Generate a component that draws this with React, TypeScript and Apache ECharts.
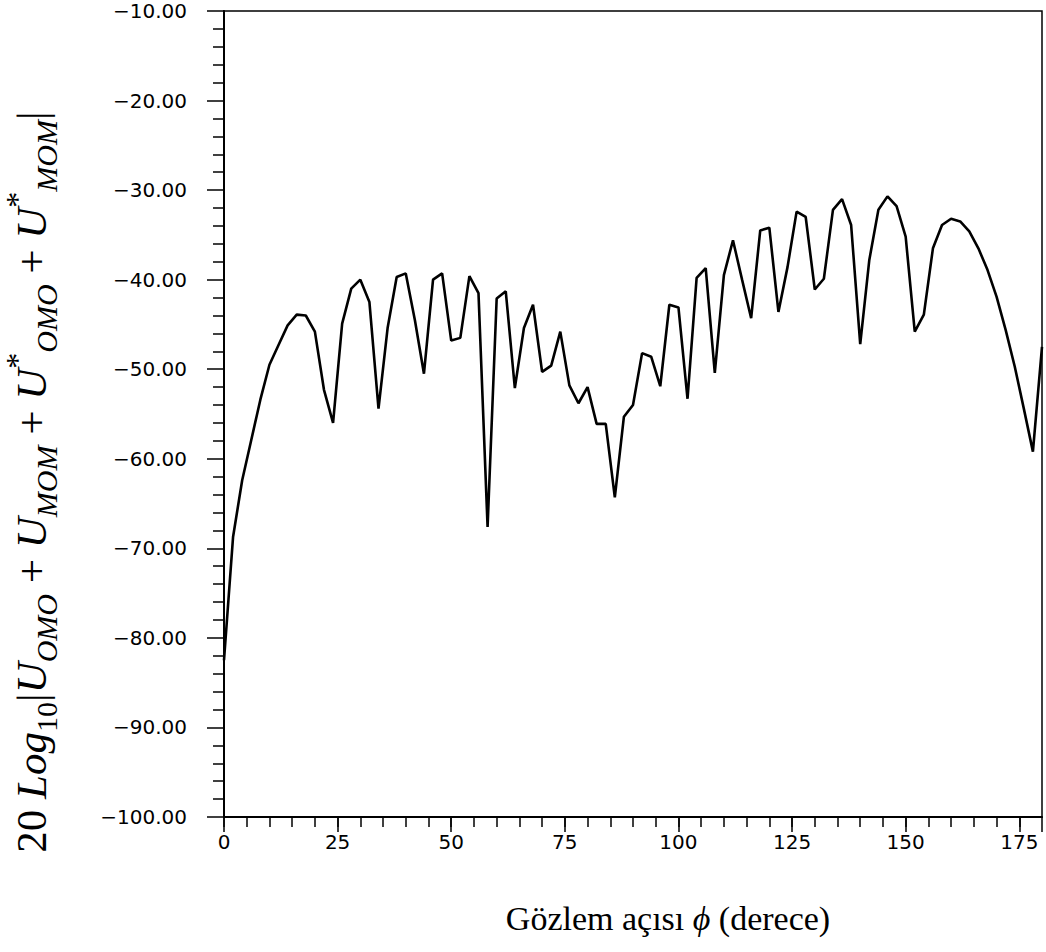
import React, { useEffect, useRef } from "react";
import * as echarts from "echarts";

// Observation angle (degrees)
const angles = [
  0, 2, 4, 6, 8, 10, 12, 14, 16, 18, 20, 22, 24, 26, 28, 30, 32, 34, 36, 38,
  40, 42, 44, 46, 48, 50, 52, 54, 56, 58, 60, 62, 64, 66, 68, 70, 72, 74, 76, 78,
  80, 82, 84, 86, 88, 90, 92, 94, 96, 98, 100, 102, 104, 106, 108, 110, 112, 114, 116, 118,
  120, 122, 124, 126, 128, 130, 132, 134, 136, 138, 140, 142, 144, 146, 148, 150, 152, 154, 156, 158,
  160, 162, 164, 166, 168, 170, 172, 174, 176, 178, 180,
];

// 20 log10 |...| (dB)
const levels = [
  -82.5, -68.7, -62.4, -57.9, -53.4, -49.5, -47.3, -45.1, -43.9, -44.0,
  -45.8, -52.3, -56.0, -44.9, -41.0, -40.0, -42.5, -54.4, -45.4, -39.7,
  -39.3, -44.5, -50.5, -40.0, -39.3, -46.8, -46.5, -39.6, -41.5, -67.6,
  -42.1, -41.3, -52.1, -45.4, -42.8, -50.3, -49.6, -45.8, -51.8, -53.8,
  -52.0, -56.1, -56.1, -64.3, -55.3, -54.0, -48.2, -48.6, -51.9, -42.8,
  -43.1, -53.3, -39.8, -38.7, -50.4, -39.5, -35.6, -40.0, -44.3, -34.5,
  -34.2, -43.6, -38.6, -32.4, -33.0, -41.1, -39.9, -32.2, -31.0, -33.9,
  -47.2, -37.8, -32.2, -30.7, -31.8, -35.2, -45.8, -43.9, -36.5, -33.9,
  -33.2, -33.5, -34.6, -36.5, -38.9, -41.9, -45.6, -49.7, -54.4, -59.2,
  -47.5,
];

const xTickLabels = [0, 25, 50, 75, 100, 125, 150, 175];
const yTickLabels = [-100, -90, -80, -70, -60, -50, -40, -30, -20, -10];

export default function App() {
  const ref = useRef<HTMLDivElement>(null);

  useEffect(() => {
    if (!ref.current) return;
    const chart = echarts.init(ref.current, null, { renderer: "svg" });
    const data = angles.map((a, i) => [a, levels[i]]);
    const serif = "'Liberation Serif', 'Times New Roman', serif";
    const sans = "'DejaVu Sans', sans-serif";

    const yRich = {
      n: { fontFamily: serif, fontSize: 43, lineHeight: 60, color: "#000" },
      i: { fontFamily: serif, fontSize: 43, lineHeight: 60, fontStyle: "italic", color: "#000" },
      d: { fontFamily: serif, fontSize: 30, lineHeight: 43, verticalAlign: "bottom", color: "#000" },
      s: { fontFamily: serif, fontSize: 30, lineHeight: 43, verticalAlign: "bottom", fontStyle: "italic", color: "#000" },
      p: { fontFamily: serif, fontSize: 32, lineHeight: 36, verticalAlign: "top", color: "#000" },
    };
    const yTitle =
      "{n|20 }{i|Log}{d|10}{n||}{i|U}{s|OMO}{n| + }{i|U}{s|MOM}{n| + }{i|U}{p|*}{s|OMO}{n| + }{i|U}{p|*}{s|MOM}{n||}";

    chart.setOption({
      animation: false,
      backgroundColor: "#fff",
      grid: {
        left: 224,
        right: 4,
        top: 11,
        bottom: 135,
        show: true,
        borderColor: "#000",
        borderWidth: 1.5,
        backgroundColor: "transparent",
      },
      xAxis: [
        {
          type: "value",
          min: 0,
          max: 180,
          interval: 5,
          position: "bottom",
          axisLine: { show: true, lineStyle: { color: "#000", width: 2 } },
          axisTick: { show: true, length: 10, lineStyle: { color: "#000", width: 1.5 } },
          splitLine: { show: false },
          axisLabel: {
            color: "#000",
            fontFamily: sans,
            fontSize: 20,
            margin: 15,
            showMaxLabel: false,
            formatter: (v: number) => (xTickLabels.includes(v) ? String(v) : ""),
          },
        },
        {
          type: "value",
          min: 0,
          max: 180,
          interval: 25,
          position: "bottom",
          axisLine: { show: false },
          axisTick: { show: true, length: 15, lineStyle: { color: "#000", width: 1.5 } },
          splitLine: { show: false },
          axisLabel: { show: false },
        },
      ],
      yAxis: {
        type: "value",
        min: -100,
        max: -10,
        interval: 10,
        axisLine: { show: true, lineStyle: { color: "#000", width: 2 } },
        axisTick: { show: true, length: 17, lineStyle: { color: "#000", width: 1.5 } },
        minorTick: { show: true, splitNumber: 5, length: 11, lineStyle: { color: "#000", width: 1.5 } },
        splitLine: { show: false },
        axisLabel: {
          color: "#000",
          fontFamily: sans,
          fontSize: 20,
          margin: 37,
          formatter: (v: number) =>
            yTickLabels.includes(v) ? (v < 0 ? "\u2212" : "") + Math.abs(v).toFixed(2) : "",
        },
      },
      graphic: [
        {
          type: "text",
          x: 31,
          y: 482,
          rotation: Math.PI / 2,
          style: {
            text: yTitle,
            rich: yRich,
            align: "center",
            verticalAlign: "middle",
            fill: "#000",
          },
        },
        {
          type: "text",
          x: 668,
          y: 918,
          style: {
            text: "{n|G\u00f6zlem a\u00e7\u0131s\u0131 }{i|\u03d5}{n| (derece)}",
            rich: {
              n: { fontFamily: serif, fontSize: 34, color: "#000" },
              i: { fontFamily: serif, fontSize: 34, fontStyle: "italic", color: "#000" },
            },
            align: "center",
            verticalAlign: "middle",
            fill: "#000",
          },
        },
      ],
      series: [
        {
          type: "line",
          xAxisIndex: 0,
          data,
          showSymbol: false,
          symbol: "none",
          lineStyle: { color: "#000", width: 2.6 },
          clip: true,
          z: 5,
        },
      ],
    });

    return () => chart.dispose();
  }, []);

  return (
    <div
      ref={ref}
      style={{ position: "absolute", left: 0, top: 0, width: 1046, height: 952, background: "#fff" }}
    />
  );
}
